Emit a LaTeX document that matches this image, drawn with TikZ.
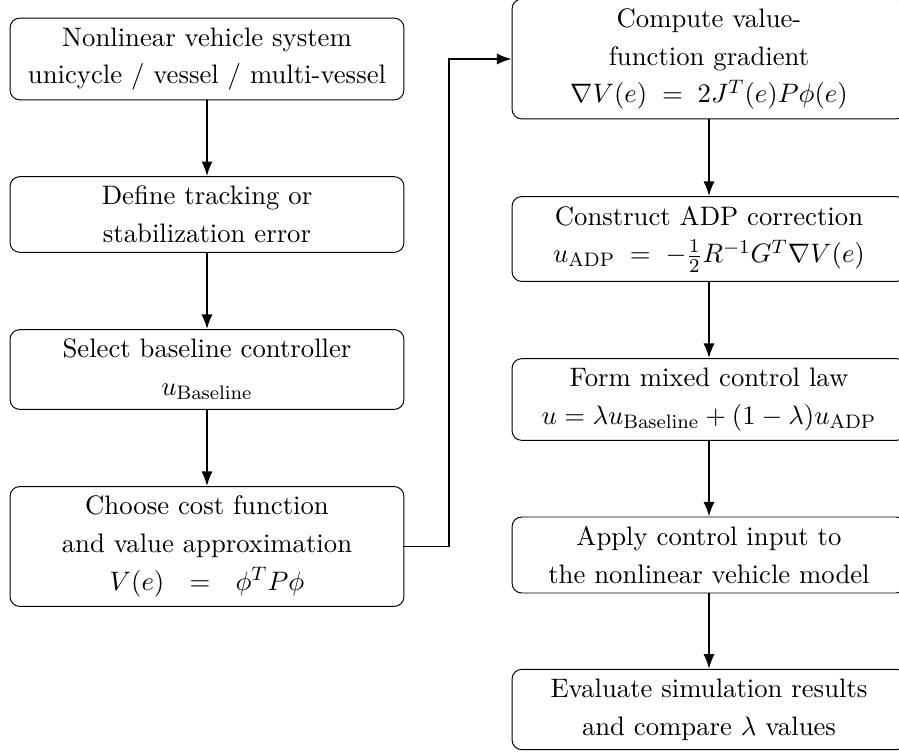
\documentclass[tikz,border=0pt]{standalone}
\usetikzlibrary{arrows.meta}
\begin{document}
\begin{tikzpicture}[x=0.41pt,y=-0.41pt,
  box/.style={draw, line width=0.4pt, rounded corners=4pt, text width=153.8pt,
    align=center, inner sep=3.85pt, font={\fontsize{10.95}{15.5}\selectfont}},
  arr/.style={line width=0.8pt, -{Latex[length=6pt,width=4.6pt]}}]
\clip (0,0) rectangle (899,752);
% left column
\node[box] (b1) at (207,59) {Nonlinear vehicle system\\unicycle / vessel / multi-vessel};
\node[box] (b2) at (207,214.5) {Define tracking or\\stabilization error};
\node[box] (b3) at (207,369.5) {Select baseline controller\\$u_{\mathrm{Baseline}}$};
\node[box] (b4) at (207,546.5) {Choose cost function\\and value approximation\\\mbox{$V(e)\ \ =\ \ \phi^T P\phi$}};
% right column
\node[box] (r1) at (709,59) {Compute value-\\function gradient\\\mbox{$\nabla V(e)\;=\;2J^T(e)P\phi(e)$}};
\node[box] (r2) at (709,239) {Construct ADP correction\\\mbox{$u_{\mathrm{ADP}}\;=\;-\frac{1}{2}R^{-1}G^T\nabla V(e)$}};
\node[box] (r3) at (709,399.5) {Form mixed control law\\\mbox{$u=\lambda u_{\mathrm{Baseline}}+(1-\lambda)u_{\mathrm{ADP}}$}};
\node[box] (r4) at (709,555) {Apply control input to\\the nonlinear vehicle model};
\node[box] (r5) at (709,709.5) {Evaluate simulation results\\and compare $\lambda$ values};
% connectors
\draw[arr] (b1.south) -- (b2.north);
\draw[arr] (b2.south) -- (b3.north);
\draw[arr] (b3.south) -- (b4.north);
\draw[arr] (b4.east) -- ++(45,0) |- (r1.west);
\draw[arr] (r1.south) -- (r2.north);
\draw[arr] (r2.south) -- (r3.north);
\draw[arr] (r3.south) -- (r4.north);
\draw[arr] (r4.south) -- (r5.north);
\end{tikzpicture}
\end{document}
